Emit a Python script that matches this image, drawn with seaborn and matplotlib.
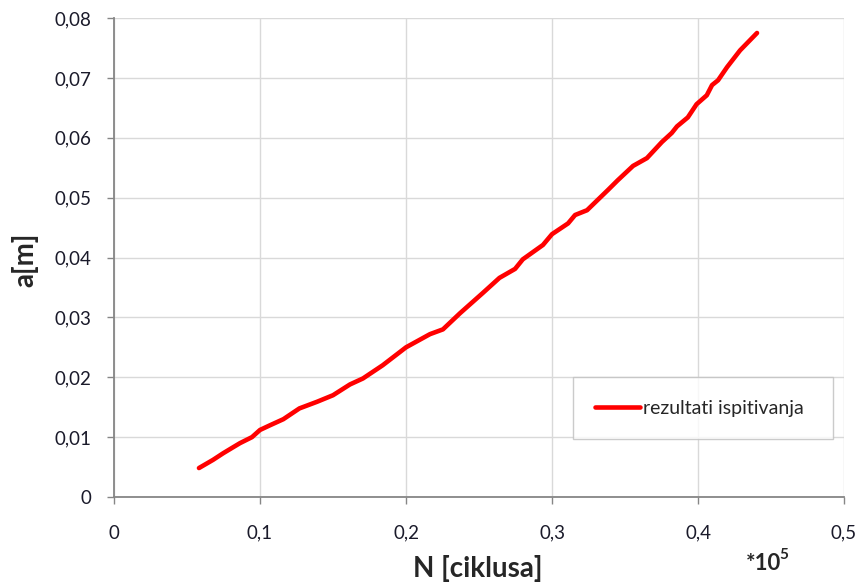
import matplotlib
matplotlib.use("Agg")
import matplotlib.pyplot as plt
import seaborn as sns

# crack length a [m] vs number of cycles N (*10^5)
N = [0.0582, 0.0678, 0.0747, 0.0815, 0.0863, 0.0945, 0.1000, 0.1070, 0.1160,
     0.1270, 0.1390, 0.1500, 0.1616, 0.1705, 0.1840, 0.2000, 0.2164, 0.2253,
     0.2370, 0.2527, 0.2640, 0.2747, 0.2800, 0.2938, 0.3000, 0.3110, 0.3158,
     0.3240, 0.3384, 0.3450, 0.3555, 0.3650, 0.3753, 0.3820, 0.3856, 0.3930,
     0.3990, 0.4060, 0.4096, 0.4137, 0.4199, 0.4288, 0.4404]
a = [0.00484, 0.0062, 0.0073, 0.0083, 0.0090, 0.0100, 0.0112, 0.0120, 0.0130,
     0.0148, 0.0159, 0.0170, 0.0188, 0.0198, 0.0220, 0.0250, 0.0272, 0.0280,
     0.0307, 0.0341, 0.0366, 0.0381, 0.0397, 0.0421, 0.0439, 0.0457, 0.0471,
     0.0479, 0.0513, 0.0529, 0.0553, 0.0566, 0.0593, 0.0608, 0.0619, 0.0634,
     0.0656, 0.0671, 0.0688, 0.0696, 0.0718, 0.0746, 0.0775]

x_ticks = [0, 0.1, 0.2, 0.3, 0.4, 0.5]
x_labels = ["0", "0,1", "0,2", "0,3", "0,4", "0,5"]
y_ticks = [0, 0.01, 0.02, 0.03, 0.04, 0.05, 0.06, 0.07, 0.08]
y_labels = ["0", "0,01", "0,02", "0,03", "0,04", "0,05", "0,06", "0,07", "0,08"]

sns.set_theme(style="white")
plt.rcParams['font.family'] = ['Lato', 'DejaVu Sans']

fig = plt.figure(figsize=(8.61, 5.85), dpi=100)
ax = fig.add_axes([0.1324, 0.1504, 0.8479, 0.8188])

sns.lineplot(x=N, y=a, color='#ff0000', linewidth=3.3, sort=False,
             label='rezultati ispitivanja', ax=ax, solid_capstyle='round',
             solid_joinstyle='round')

ax.set_xlim(0, 0.5)
ax.set_ylim(0, 0.08)
ax.set_xticks(x_ticks)
ax.set_xticklabels(x_labels)
ax.set_yticks(y_ticks)
ax.set_yticklabels(y_labels)
ax.grid(True, color='#d9d9d9', linewidth=1.0)
ax.set_axisbelow(True)

for s in ['top', 'right']:
    ax.spines[s].set_visible(False)
for s in ['left', 'bottom']:
    ax.spines[s].set_color('#868686')
    ax.spines[s].set_linewidth(1.3)

ax.tick_params(axis='both', direction='out', length=5, width=1, color='#868686',
               labelsize=13.5, labelcolor='#1a1a2a')
ax.tick_params(axis='x', pad=15)
ax.tick_params(axis='y', pad=11)
ax.xaxis.set_ticks_position('bottom')
ax.yaxis.set_ticks_position('left')

ax.set_xlabel('N [ciklusa]', fontsize=20, fontweight='bold', va='center')
ax.xaxis.set_label_coords(0.4986, -0.150)
ax.set_ylabel('a[m]', fontsize=20, fontweight='bold', va='center')
ax.yaxis.set_label_coords(-0.122, 0.495)

fig.text(781 / 861, 1 - 563 / 585, '*10', fontsize=16, fontweight='bold',
         ha='right', va='center')
fig.text(779.5 / 861, 1 - 555 / 585, '5', fontsize=11, fontweight='bold',
         ha='left', va='center')

leg = ax.legend(loc='lower left', bbox_to_anchor=(0.6288, 0.1211, 0.356, 0.1357),
                mode='expand', fancybox=False, edgecolor='#bfbfbf',
                fontsize=14, borderpad=1.15, handlelength=2.3,
                handletextpad=0.15, borderaxespad=0)
leg.get_frame().set_linewidth(1.0)

fig.savefig('out.png', dpi=100)
